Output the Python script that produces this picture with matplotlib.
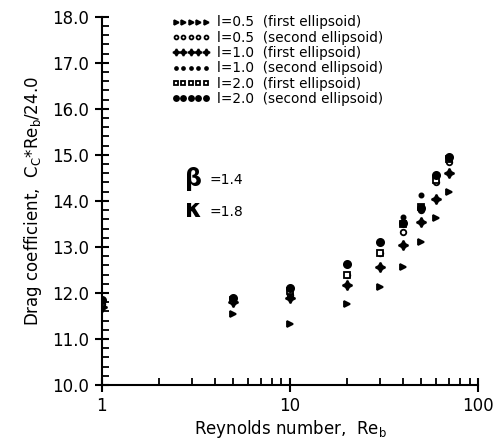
import numpy as np
import matplotlib
matplotlib.use("Agg")
import matplotlib.pyplot as plt
from matplotlib.ticker import FixedLocator, MultipleLocator, FormatStrFormatter, NullFormatter

# Reynolds numbers of the runs
reynolds = [1, 5, 10, 20, 30, 40, 50, 60, 70]

# Drag coefficient Cc*Re/24 for each aspect ratio l
l05_first = [11.65, 11.55, 11.33, 11.76, 12.13, 12.57, 13.11, 13.63, 14.20]
l05_second = [11.75, 11.82, 11.95, 12.40, 12.87, 13.33, 13.80, 14.41, 14.85]
l10_first = [11.70, 11.80, 11.90, 12.17, 12.57, 13.04, 13.54, 14.04, 14.60]
l10_second = [11.80, 11.85, 12.00, 12.63, 13.11, 13.65, 14.13, 14.57, 14.96]
l20_first = [11.78, 11.85, 12.05, 12.38, 12.87, 13.50, 13.87, 14.45, 14.90]
l20_second = [11.85, 11.90, 12.10, 12.63, 13.11, 13.52, 13.85, 14.57, 14.96]

labels = ["l=0.5  (first ellipsoid)", "l=0.5  (second ellipsoid)",
          "l=1.0  (first ellipsoid)", "l=1.0  (second ellipsoid)",
          "l=2.0  (first ellipsoid)", "l=2.0  (second ellipsoid)"]

fig = plt.figure(figsize=(4.97, 4.43), dpi=100)
ax = fig.add_axes([0.205, 0.131, 0.757, 0.831])

# marker styles: (marker, size, face colour)
styles = [(">", 4.8, "black"), ("o", 4.0, "white"), ((4, 1, 0), 7, "black"),
          ("o", 3.0, "black"), ("s", 4.3, "white"), ("o", 5.2, "black")]
series = [l05_first, l05_second, l10_first, l10_second, l20_first, l20_second]

for vals, lab, (m, ms, fc) in zip(series, labels, styles):
    ax.plot(reynolds, vals, linestyle="none", marker=m, markersize=ms,
            markerfacecolor=fc, markeredgecolor="black", markeredgewidth=1.3,
            label=lab)

ax.set_xscale("log")
ax.set_xlim(1, 100)
ax.set_ylim(10, 18)

ax.spines["top"].set_visible(False)
ax.spines["right"].set_visible(False)
ax.spines["left"].set_linewidth(1.5)
ax.spines["bottom"].set_linewidth(1.5)

ax.yaxis.set_major_locator(MultipleLocator(1.0))
ax.yaxis.set_minor_locator(MultipleLocator(0.2))
ax.yaxis.set_major_formatter(FormatStrFormatter("%.1f"))
ax.xaxis.set_major_locator(FixedLocator([1, 10, 100]))
ax.xaxis.set_major_formatter(FormatStrFormatter("%g"))
ax.xaxis.set_minor_locator(FixedLocator([2, 3, 4, 5, 6, 7, 8, 9,
                                         20, 30, 40, 50, 60, 70, 80, 90]))
ax.xaxis.set_minor_formatter(NullFormatter())

ax.tick_params(which="major", direction="inout", length=10, width=1.5,
               labelsize=12, pad=4)
ax.tick_params(which="minor", direction="in", length=5, width=1.3)

ax.set_xlabel("Reynolds number,  Re$_\\mathregular{b}$", fontsize=12, labelpad=2)
ax.set_ylabel("Drag coefficient,  C$_\\mathregular{C}$*Re$_\\mathregular{b}$/24.0",
              fontsize=12, labelpad=6)

ax.legend(loc="upper left", bbox_to_anchor=(0.16, 1.03), frameon=False,
          numpoints=5, markerscale=0.7, fontsize=9.8, handlelength=2.8,
          handletextpad=0.5, labelspacing=0.1, borderpad=0.2)

ax.text(0.22, 0.54, "β", transform=ax.transAxes, fontsize=17, fontweight="bold")
ax.text(0.285, 0.545, "=1.4", transform=ax.transAxes, fontsize=10)
ax.text(0.22, 0.455, "κ", transform=ax.transAxes, fontsize=17, fontweight="bold")
ax.text(0.285, 0.46, "=1.8", transform=ax.transAxes, fontsize=10)

fig.savefig("out.png", dpi=100)
